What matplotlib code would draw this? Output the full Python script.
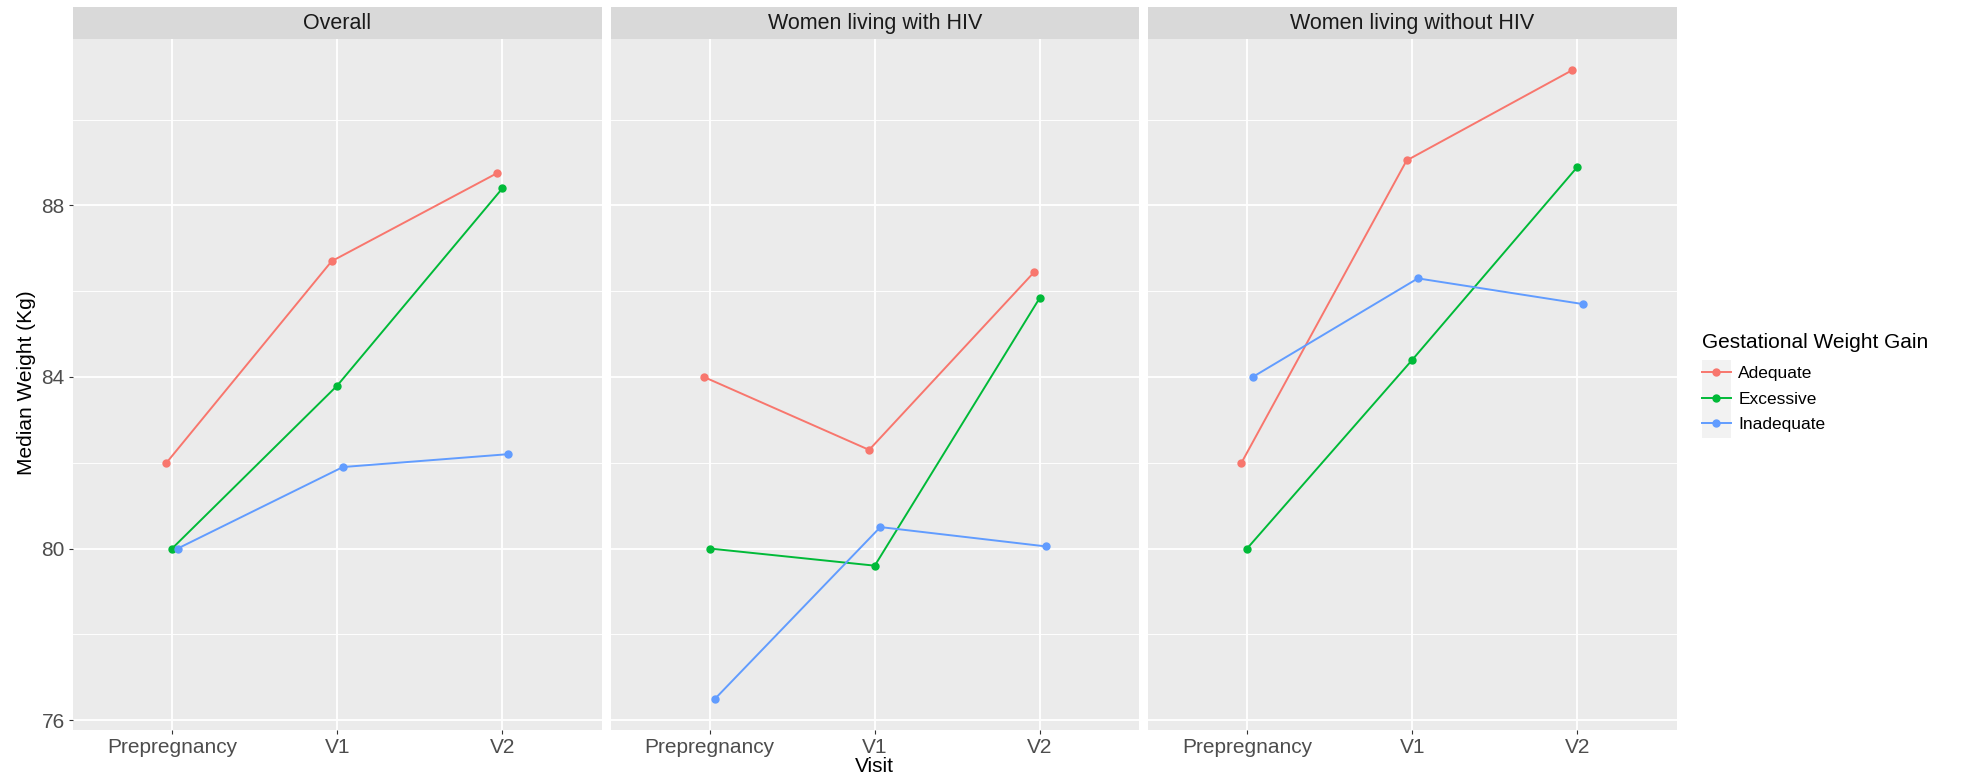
import matplotlib
matplotlib.use("Agg")
import matplotlib.pyplot as plt
import numpy as np
from matplotlib.lines import Line2D
from matplotlib.patches import Rectangle
from matplotlib.ticker import MultipleLocator

plt.rcParams['font.family'] = ['Liberation Sans', 'DejaVu Sans']

visits = ["Prepregnancy", "V1", "V2"]
groups = ["Adequate", "Excessive", "Inadequate"]
colors = ["#F8766D", "#00BA38", "#619CFF"]
panels = ["Overall", "Women living with HIV", "Women living without HIV"]

overall_adequate = [82.0, 86.7, 88.75]
overall_excessive = [80.0, 83.8, 88.4]
overall_inadequate = [80.0, 81.9, 82.2]

hiv_adequate = [84.0, 82.3, 86.45]
hiv_excessive = [80.0, 79.6, 85.85]
hiv_inadequate = [76.5, 80.5, 80.05]

nohiv_adequate = [82.0, 89.05, 91.15]
nohiv_excessive = [80.0, 84.4, 88.9]
nohiv_inadequate = [84.0, 86.3, 85.7]

panel_series = [
    [overall_adequate, overall_excessive, overall_inadequate],
    [hiv_adequate, hiv_excessive, hiv_inadequate],
    [nohiv_adequate, nohiv_excessive, nohiv_inadequate],
]

W, H = 1961, 782
fig = plt.figure(figsize=(W / 100, H / 100), dpi=100)

# panel geometry in pixels
lefts = [73, 610.5, 1148]
pw = 528.5
top, bottom = 39, 730
strip_h = 31.5

# y range with 5% padding, x range with 0.6 padding (discrete scale)
allv = np.concatenate([np.ravel(s) for s in panel_series])
span = allv.max() - allv.min()
ylim = (allv.min() - 0.05 * span, allv.max() + 0.05 * span)
xpos = np.arange(len(visits))
dodge = [-0.034, 0.0, 0.034]

for i, (title, series) in enumerate(zip(panels, panel_series)):
    ax = fig.add_axes([lefts[i] / W, 1 - bottom / H, pw / W, (bottom - top) / H])
    ax.set_facecolor("#EBEBEB")
    for s in ax.spines.values():
        s.set_visible(False)
    ax.set_xlim(-0.6, len(visits) - 1 + 0.6)
    ax.set_ylim(*ylim)
    ax.yaxis.set_major_locator(MultipleLocator(4))
    ax.yaxis.set_minor_locator(MultipleLocator(2))
    ax.set_xticks(xpos)
    ax.set_xticklabels(visits)
    ax.grid(which="major", color="white", linewidth=1.3, zorder=0)
    ax.grid(which="minor", axis="y", color="white", linewidth=0.65, zorder=0)
    ax.set_axisbelow(True)
    ax.tick_params(axis="both", which="major", length=3, width=0.8, color="#333333",
                   labelsize=15, labelcolor="#4D4D4D", pad=3)
    ax.tick_params(axis="y", which="minor", length=0)
    if i > 0:
        ax.tick_params(axis="y", which="major", length=0, labelleft=False)

    for vals, c, d in zip(series, colors, dodge):
        ax.plot(xpos + d, vals, color=c, linewidth=1.4, marker="o",
                markersize=5, zorder=3)

    # facet strip
    ax.add_patch(Rectangle((0, 1), 1, strip_h / (bottom - top), transform=ax.transAxes,
                           facecolor="#D9D9D9", edgecolor="none", clip_on=False))
    ax.text(0.5, 1 + strip_h / 2 / (bottom - top), title, transform=ax.transAxes,
            ha="center", va="center", fontsize=15.5, color="#1A1A1A")

fig.text(27 / W, 1 - 383 / H, "Median Weight (Kg)", rotation=90, ha="center",
         va="center", fontsize=15, color="black")
fig.text(874 / W, 1 - 766 / H, "Visit", ha="center", va="center", fontsize=15,
         color="black")

# legend: title, grey key column, then entries
fig.text(1702 / W, 1 - 342 / H, "Gestational Weight Gain", ha="left", va="center",
         fontsize=15, color="black")
fig.add_artist(Rectangle((1702 / W, 1 - 438 / H), 29 / W, 78 / H,
                         transform=fig.transFigure, facecolor="#F2F2F2",
                         edgecolor="none"))
handles = [Line2D([], [], color=c, linewidth=1.4, marker="o", markersize=5)
           for c in colors]
leg = fig.legend(handles, groups, loc="upper left",
                 bbox_to_anchor=(1702 / W, 1 - 366 / H),
                 fontsize=12.5, frameon=False,
                 handlelength=1.65, handletextpad=0.45, labelspacing=0.6,
                 borderpad=0.0, borderaxespad=0)

fig.savefig("out.png", dpi=100)
